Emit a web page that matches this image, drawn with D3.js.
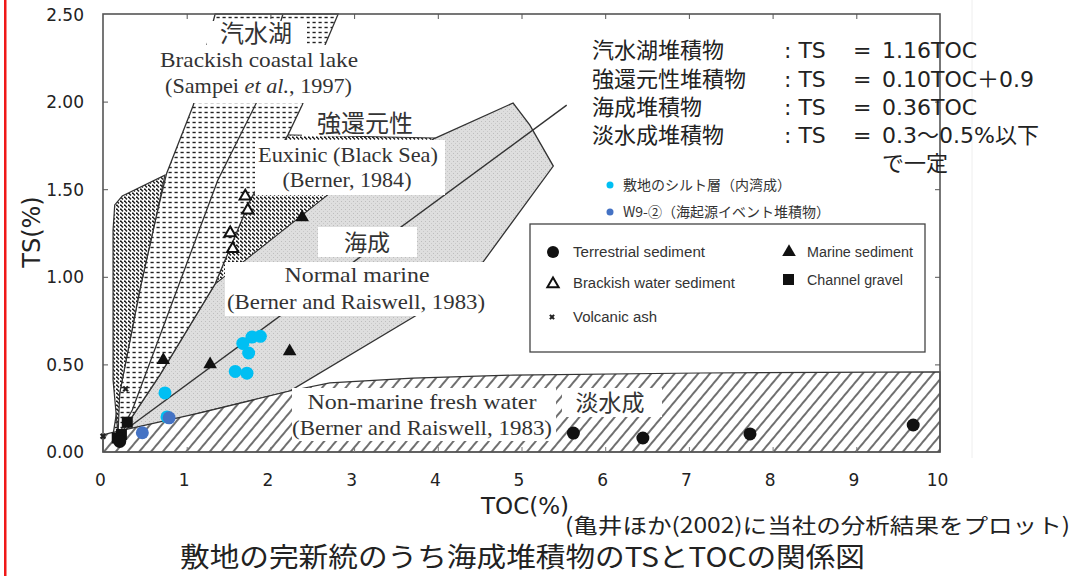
<!DOCTYPE html>
<html><head><meta charset="utf-8">
<script src="https://cdn.jsdelivr.net/npm/d3@7"></script>
<style>body{margin:0;background:#fff;} svg{display:block}</style>
</head><body><svg id="c" width="1073" height="576"></svg>
<script>
// ---------- data ----------
const xTicks = [0,1,2,3,4,5,6,7,8,9,10];
const yTicks = [0,0.5,1.0,1.5,2.0,2.5];

// regions (TOC, TS)
const wedgeLeft  = [[0.11,0.068],[0.20,0.337],[0.44,0.925],[0.645,1.364],[0.76,1.59],[1.08,1.98],[1.24,2.32],[1.34,2.5]];
const wedgeRight = [[0.18,0.08],[0.68,0.44],[1.34,0.96],[1.76,1.44],[2.21,1.81],[2.38,1.98],[2.65,2.32],[2.81,2.5]];
const wedgeMid   = [[0.15,0.07],[0.35,0.24],[1.37,1.55],[1.84,2.0],[2.15,2.5]];
const marineEdge = [[2.71,1.478],[3.97,1.792],[4.90,1.992],[5.10,1.866],[5.38,1.632],[4.54,1.084],[3.75,0.782],[2.23,0.348],[1.16,0.223],[0.26,0.103]];
const euxinicPoly = [[1.34,0.96],[1.76,1.44],[2.21,1.81],[3.97,1.792],[2.71,1.478]];
const blobPoly = [[0.18,0.097],[0.12,0.411],[0.12,1.267],[0.14,1.41],[0.23,1.461],[0.74,1.58],[0.645,1.364],[0.44,0.925],[0.2,0.337]];
const freshPoly = [[0,0],[10,0],[10,0.457],[7.13,0.451],[4.90,0.439],[3.70,0.422],[2.71,0.394],[2.23,0.348],[1.16,0.223],[0.08,0.108],[0,0.097]];
const marineLine = [[0.2,0.103],[5.54,1.98]];

// points
const terrestrial = [[5.62,0.108],[6.45,0.08],[7.73,0.103],[9.68,0.154],[0.2,0.06]];
const marineSed   = [[0.72,0.525],[1.28,0.50],[2.23,0.575],[2.38,1.34]];
const brackishSed = [[1.70,1.46],[1.73,1.38],[1.52,1.25],[1.55,1.16]];
const channelGravel = [[0.29,0.17],[0.22,0.10],[0.17,0.08]];
const volcanicAsh = [[0.0,0.09],[0.27,0.36]];
const siltPts = [[0.74,0.337],[0.765,0.20],[1.67,0.62],[1.78,0.656],[1.88,0.66],[1.74,0.565],[1.58,0.46],[1.72,0.45]];
const w9Pts = [[0.79,0.195],[0.47,0.11]];

const eqLabels = ["汽水湖堆積物","強還元性堆積物","海成堆積物","淡水成堆積物"];
const eqValues = ["1.16TOC","0.10TOC＋0.9","0.36TOC","0.3～0.5%以下"];

// ---------- scales ----------
const svg = d3.select("#c");
const x = d3.scaleLinear().domain([0,10]).range([103,940]);
const y = d3.scaleLinear().domain([0,2.5]).range([452,14]);
const xl = d3.scaleLinear().domain([0,10]).range([100,937]);
const yl = d3.scaleLinear().domain([0,2.5]).range([452,15]);
const line = d3.line().x(d=>x(d[0])).y(d=>y(d[1]));
const poly = p => line(p) + "Z";

// ---------- patterns ----------
const defs = svg.append("defs");
const pd = defs.append("pattern").attr("id","dots").attr("width",6).attr("height",5).attr("patternUnits","userSpaceOnUse");
pd.append("rect").attr("width",6).attr("height",5).attr("fill","#fff");
pd.append("rect").attr("x",0.5).attr("y",1.8).attr("width",3.2).attr("height",1.4).attr("fill","#222");
const pe = defs.append("pattern").attr("id","eux").attr("width",4).attr("height",4).attr("patternUnits","userSpaceOnUse");
pe.append("rect").attr("width",4).attr("height",4).attr("fill","#fff");
pe.append("path").attr("d","M0.3,0.6 L3,3.4").attr("stroke","#1a1a1a").attr("stroke-width",1.4);
const ph = defs.append("pattern").attr("id","hatch").attr("width",9).attr("height",9).attr("patternUnits","userSpaceOnUse").attr("patternTransform","rotate(40)");
ph.append("rect").attr("width",9).attr("height",9).attr("fill","#fff");
ph.append("line").attr("x1",1).attr("y1",0).attr("x2",1).attr("y2",9).attr("stroke","#222").attr("stroke-width",1.3);
const pg = defs.append("pattern").attr("id","gray").attr("width",4).attr("height",4).attr("patternUnits","userSpaceOnUse");
pg.append("rect").attr("width",4).attr("height",4).attr("fill","#dedede");
pg.append("rect").attr("x",1).attr("y",1).attr("width",1).attr("height",1).attr("fill","#bdbdbd");
pg.append("rect").attr("x",3).attr("y",3).attr("width",1).attr("height",1).attr("fill","#c8c8c8");

// red bar
svg.append("rect").attr("x",4).attr("y",0).attr("width",2.5).attr("height",576).attr("fill","#f01818");
// faint scan edge
svg.append("line").attr("x1",972).attr("x2",972).attr("y1",0).attr("y2",458).attr("stroke","#eee");

// ---------- regions ----------
const g = svg.append("g");
const marinePoly = wedgeRight.slice(0,3).concat(marineEdge);
g.append("path").attr("d",poly(marinePoly)).attr("fill","url(#gray)").attr("stroke","#333").attr("stroke-width",1.3);
g.append("path").attr("d",poly(euxinicPoly)).attr("fill","url(#eux)").attr("stroke","#333").attr("stroke-width",1);
g.append("path").attr("d",poly(wedgeLeft.concat(wedgeRight.slice().reverse()))).attr("fill","url(#dots)").attr("stroke","#333").attr("stroke-width",1.3);
g.append("path").attr("d",poly(blobPoly)).attr("fill","url(#eux)").attr("stroke","#333").attr("stroke-width",1.2);
g.append("path").attr("d",poly(freshPoly)).attr("fill","url(#hatch)").attr("stroke","#333").attr("stroke-width",1.2);
g.append("path").attr("d",line(wedgeMid)).attr("fill","none").attr("stroke","#333").attr("stroke-width",1.3);
g.append("path").attr("d",line(marineLine)).attr("fill","none").attr("stroke","#333").attr("stroke-width",1.4);

// frame + inner ticks
g.append("rect").attr("x",x(0)).attr("y",y(2.5)).attr("width",x(10)-x(0)).attr("height",y(0)-y(2.5)).attr("fill","none").attr("stroke","#555").attr("stroke-width",1.6);
g.append("g").attr("transform",`translate(0,${y(2.5)})`).call(d3.axisBottom(x).tickValues(xTicks.slice(1,-1)).tickSize(5).tickFormat("")).call(a=>a.select(".domain").remove()).selectAll("line").attr("stroke","#555");
g.append("g").attr("transform",`translate(0,${y(0)})`).call(d3.axisTop(x).tickValues(xTicks.slice(1,-1)).tickSize(5).tickFormat("")).call(a=>a.select(".domain").remove()).selectAll("line").attr("stroke","#777");
g.append("g").attr("transform",`translate(${x(0)},0)`).call(d3.axisRight(y).tickValues(yTicks.slice(1,-1)).tickSize(5).tickFormat("")).call(a=>a.select(".domain").remove()).selectAll("line").attr("stroke","#555");
g.append("g").attr("transform",`translate(${x(10)},0)`).call(d3.axisLeft(y).tickValues(yTicks.slice(1,-1)).tickSize(5).tickFormat("")).call(a=>a.select(".domain").remove()).selectAll("line").attr("stroke","#555");

// ---------- white label boxes ----------
const boxes = [[207,21,100,24],[150,45,215,58],[302,108,130,28],[255,140,190,55],[318,227,99,30],[225,262,265,54],[292,388,264,53],[562,388,100,29]];
svg.append("g").selectAll("rect").data(boxes).join("rect")
  .attr("x",d=>d[0]).attr("y",d=>d[1]).attr("width",d=>d[2]).attr("height",d=>d[3]).attr("fill","#fff");

// serif labels
const serif = [
  ["Brackish coastal lake",259,67,198],
  ["(Berner, 1984)",347,187,129],
  ["Euxinic (Black Sea)",348,162,180],
  ["Normal marine",357,282,145],
  ["(Berner and Raiswell, 1983)",356,309,258],
  ["Non-marine fresh water",422,409,229],
  ["(Berner and Raiswell, 1983)",422,435,260]
];
svg.append("g").selectAll("text").data(serif).join("text")
  .attr("x",d=>d[1]).attr("y",d=>d[2]).attr("text-anchor","middle")
  .attr("textLength",d=>d[3]).attr("lengthAdjust","spacingAndGlyphs")
  .attr("font-family","Liberation Serif, serif").attr("font-size",22).attr("fill","#333")
  .text(d=>d[0]);
const samp = svg.append("text").attr("x",165).attr("y",93).attr("textLength",187).attr("lengthAdjust","spacingAndGlyphs")
  .attr("font-family","Liberation Serif, serif").attr("font-size",22).attr("fill","#333");
samp.append("tspan").text("(Sampei ");
samp.append("tspan").attr("font-style","italic").text("et al.");
samp.append("tspan").text(", 1997)");

// japanese scan labels
const jl = [["汽水湖",256,42,24],["強還元性",365,132,24],["海成",367,251,23],["淡水成",610,411,23]];
svg.append("g").selectAll("text").data(jl).join("text")
  .attr("x",d=>d[1]).attr("y",d=>d[2]).attr("text-anchor","middle")
  .attr("font-family","Noto Sans CJK JP").attr("font-size",d=>d[3]).attr("fill","#333").text(d=>d[0]);

// ---------- scan legend ----------
const lg = svg.append("g");
lg.append("rect").attr("x",530).attr("y",224).attr("width",395).attr("height",128).attr("fill","#fff").attr("stroke","#444").attr("stroke-width",1.3);
lg.append("circle").attr("cx",553).attr("cy",252).attr("r",6).attr("fill","#111");
lg.append("path").attr("d",d3.symbol(d3.symbolTriangle,55)()).attr("transform","translate(553,284)").attr("fill","#fff").attr("stroke","#111").attr("stroke-width",2);
lg.append("path").attr("d",d3.symbol(d3.symbolCross,20)()).attr("transform","translate(552,317) rotate(45)").attr("fill","#222");
lg.append("path").attr("d",d3.symbol(d3.symbolTriangle,80)()).attr("transform","translate(789,252)").attr("fill","#111");
lg.append("rect").attr("x",783).attr("y",274).attr("width",11).attr("height",11).attr("fill","#111");
const lt = [["Terrestrial sediment",573,257,132],["Brackish water sediment",573,288,162],["Volcanic ash",573,322,84],["Marine sediment",807,257,106],["Channel gravel",807,285,96]];
lg.selectAll("text").data(lt).join("text").attr("x",d=>d[1]).attr("y",d=>d[2]).attr("textLength",d=>d[3]).attr("lengthAdjust","spacingAndGlyphs")
  .attr("font-family","Liberation Sans, sans-serif").attr("font-size",14).attr("fill","#333").text(d=>d[0]);

// ---------- points ----------
const pts = svg.append("g");
pts.selectAll(".gr").data(channelGravel).join("rect").attr("x",d=>x(d[0])-5.5).attr("y",d=>y(d[1])-5.5).attr("width",11).attr("height",11).attr("fill","#111");
pts.selectAll(".te").data(terrestrial).join("circle").attr("cx",d=>x(d[0])).attr("cy",d=>y(d[1])).attr("r",6.5).attr("fill","#111");
pts.selectAll(".ms").data(marineSed).join("path").attr("d",d3.symbol(d3.symbolTriangle,80)()).attr("transform",d=>`translate(${x(d[0])},${y(d[1])})`).attr("fill","#111");
pts.selectAll(".bs").data(brackishSed).join("path").attr("d",d3.symbol(d3.symbolTriangle,55)()).attr("transform",d=>`translate(${x(d[0])},${y(d[1])})`).attr("fill","#fff").attr("stroke","#111").attr("stroke-width",2);
pts.selectAll(".va").data(volcanicAsh).join("path").attr("d",d3.symbol(d3.symbolCross,25)()).attr("transform",d=>`translate(${x(d[0])},${y(d[1])}) rotate(45)`).attr("fill","#222");
pts.selectAll(".si").data(siltPts).join("circle").attr("cx",d=>x(d[0])).attr("cy",d=>y(d[1])).attr("r",6.5).attr("fill","#00bff3");
pts.selectAll(".w9").data(w9Pts).join("circle").attr("cx",d=>x(d[0])).attr("cy",d=>y(d[1])).attr("r",6.5).attr("fill","#4472c4");

// ---------- overlay axes labels ----------
const ax = svg.append("g").attr("transform","translate(0,480)").call(d3.axisBottom(xl).tickValues(xTicks).tickSize(0).tickPadding(0).tickFormat(d3.format("d")));
ax.select(".domain").remove();
ax.selectAll("text").attr("font-family","DejaVu Sans").attr("font-size",17).attr("fill","#222").attr("dy","0.35em");
const ay = svg.append("g").attr("transform","translate(84,0)").call(d3.axisLeft(yl).tickValues(yTicks).tickSize(0).tickPadding(0).tickFormat(d3.format(".2f")));
ay.select(".domain").remove();
ay.selectAll("text").attr("font-family","DejaVu Sans").attr("font-size",17).attr("fill","#222");

svg.append("text").attr("x",525).attr("y",514).attr("text-anchor","middle").attr("font-family","DejaVu Sans").attr("font-size",23).attr("fill","#222").text("TOC(%)");
svg.append("text").attr("transform","translate(40,232) rotate(-90)").attr("text-anchor","middle").attr("font-family","DejaVu Sans").attr("font-size",24).attr("fill","#222").text("TS(%)");

// ---------- equations ----------
const eq = svg.append("g").attr("font-family","DejaVu Sans, Noto Sans CJK JP").attr("font-size",22).attr("fill","#222");
const eqY = [58,87,115,143];
eqLabels.forEach((t,i)=>{
  eq.append("text").attr("x",592).attr("y",eqY[i]).attr("font-family","Noto Sans CJK JP").text(t);
  eq.append("text").attr("x",784).attr("y",eqY[i]).text(": TS");
  eq.append("text").attr("x",853).attr("y",eqY[i]).text("=");
  eq.append("text").attr("x",882).attr("y",eqY[i]).text(eqValues[i]);
});
eq.append("text").attr("x",882).attr("y",171).attr("font-family","Noto Sans CJK JP").text("で一定");

// small legend
svg.append("circle").attr("cx",610).attr("cy",185).attr("r",3.5).attr("fill","#00bff3");
svg.append("circle").attr("cx",610).attr("cy",212).attr("r",3.5).attr("fill","#4472c4");
svg.append("text").attr("x",623).attr("y",190).attr("font-family","Noto Sans CJK JP").attr("font-size",14).attr("fill","#333").text("敷地のシルト層（内湾成）");
svg.append("text").attr("x",623).attr("y",217).attr("font-family","Noto Sans CJK JP").attr("font-size",14).attr("fill","#333").text("W9-②（海起源イベント堆積物）");

// ---------- captions ----------
svg.append("text").attr("x",565).attr("y",533).attr("textLength",505).attr("lengthAdjust","spacingAndGlyphs").attr("font-family","Noto Sans CJK JP").attr("font-size",21).attr("fill","#222").text("(亀井ほか(2002)に当社の分析結果をプロット)");
svg.append("text").attr("x",180).attr("y",567).attr("textLength",685).attr("lengthAdjust","spacingAndGlyphs").attr("font-family","Noto Sans CJK JP").attr("font-size",27).attr("fill","#222").text("敷地の完新統のうち海成堆積物のTSとTOCの関係図");
</script></body></html>
